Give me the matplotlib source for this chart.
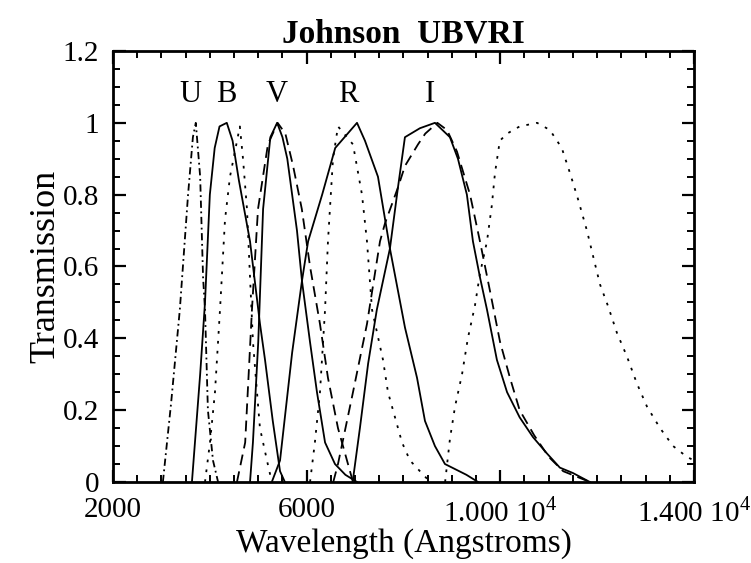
import numpy as np
import matplotlib.pyplot as plt
from matplotlib.ticker import MultipleLocator, FixedLocator

plt.rcParams['font.family'] = ['Liberation Serif', 'DejaVu Serif']
plt.rcParams['mathtext.fontset'] = 'custom'
plt.rcParams['mathtext.rm'] = 'Liberation Serif'

# filter curves (wavelength in Angstroms, transmission)
u_dashdot_wl = [3030, 3200, 3380, 3550, 3650, 3710, 3800, 3860, 3900, 3960, 4065, 4170]
u_dashdot_tr = [0.0, 0.22, 0.48, 0.8, 0.96, 1.0, 0.85, 0.57, 0.48, 0.2, 0.06, 0.0]

b_solid_wl = [3630, 3800, 3900, 4000, 4100, 4200, 4350, 4470, 4600, 4830, 5036, 5140, 5300, 5450, 5550]
b_solid_tr = [0.0, 0.3, 0.5, 0.8, 0.93, 0.99, 1.0, 0.95, 0.84, 0.67, 0.44, 0.34, 0.17, 0.03, 0.0]

b_dotted_wl = [3900, 4003, 4106, 4210, 4313, 4416, 4620, 4685, 4767, 4830, 4891, 4974, 5035, 5180, 5280]
b_dotted_tr = [0.0, 0.11, 0.25, 0.48, 0.73, 0.85, 0.99, 0.9, 0.76, 0.57, 0.39, 0.25, 0.15, 0.06, 0.0]

v_dashed_wl = [4560, 4730, 4870, 4995, 5200, 5400, 5560, 5720, 5900, 6070, 6275, 6440, 6647, 6833, 6957]
v_dashed_tr = [0.0, 0.11, 0.48, 0.76, 0.94, 1.0, 0.97, 0.88, 0.76, 0.6, 0.44, 0.29, 0.15, 0.06, 0.0]

v_solid_wl = [4830, 4890, 5000, 5100, 5250, 5390, 5500, 5600, 5700, 5800, 5903, 6069, 6213, 6380, 6585, 6800, 7040]
v_solid_tr = [0.0, 0.11, 0.39, 0.76, 0.96, 1.0, 0.96, 0.9, 0.8, 0.7, 0.56, 0.39, 0.25, 0.11, 0.05, 0.02, 0.0]

r_solid_wl = [5280, 5450, 5700, 5903, 6030, 6320, 6590, 7040, 7205, 7473, 7720, 8031, 8280, 8444, 8650, 8857, 9300, 9540]
r_solid_tr = [0.0, 0.06, 0.36, 0.56, 0.67, 0.8, 0.93, 1.0, 0.95, 0.85, 0.65, 0.43, 0.29, 0.17, 0.1, 0.05, 0.02, 0.0]

r_dotted_wl = [6070, 6170, 6275, 6380, 6440, 6544, 6647, 6957, 7143, 7246, 7350, 7577, 7680, 7825, 7970, 8134, 8340, 8550]
r_dotted_tr = [0.0, 0.11, 0.25, 0.48, 0.67, 0.9, 0.99, 0.94, 0.8, 0.67, 0.48, 0.34, 0.25, 0.18, 0.11, 0.06, 0.03, 0.0]

i_solid_wl = [6950, 7100, 7270, 7450, 7720, 7886, 8030, 8340, 8650, 8960, 9125, 9310, 9435, 9580, 9725, 9930,
              10140, 10400, 10675, 10960, 11230, 11500, 11850]
i_solid_tr = [0.0, 0.15, 0.33, 0.48, 0.65, 0.82, 0.96, 0.985, 1.0, 0.96, 0.9, 0.8, 0.67, 0.57, 0.48, 0.34,
              0.25, 0.18, 0.125, 0.08, 0.04, 0.025, 0.0]

i_dashed_wl = [6550, 6647, 6957, 7246, 7515, 7618, 7886, 8031, 8300, 8450, 8700, 8900, 9105, 9375, 9580, 9790,
               9995, 10200, 10400, 10700, 11000, 11300, 11850]
i_dashed_tr = [0.0, 0.05, 0.25, 0.44, 0.67, 0.72, 0.82, 0.88, 0.94, 0.97, 1.0, 0.98, 0.92, 0.8, 0.67, 0.53,
               0.39, 0.29, 0.2, 0.13, 0.07, 0.03, 0.0]

i_dotted_wl = [8860, 8960, 9065, 9210, 9330, 9475, 9580, 9725, 9825, 9890, 9990, 10140, 10400, 10760, 11025,
               11270, 11440, 11600, 11790, 11915, 12060, 12225, 12410, 12615, 12820, 13030, 13300, 13570, 13855, 14000]
i_dotted_tr = [0.0, 0.12, 0.21, 0.3, 0.4, 0.49, 0.58, 0.67, 0.77, 0.86, 0.95, 0.97, 0.99, 1.0, 0.98,
               0.93, 0.86, 0.79, 0.7, 0.63, 0.55, 0.49, 0.415, 0.35, 0.275, 0.21, 0.15, 0.1, 0.07, 0.06]

band_names = ['U', 'B', 'V', 'R', 'I']
band_centres = [3590, 4334, 5387, 6853, 8547]

x_ticks = [2000, 6000, 10000, 14000]
x_ticklabels = ['2000', '6000', r'1.000 10$^4$', r'1.400 10$^4$']
y_ticks = [0, 0.2, 0.4, 0.6, 0.8, 1.0, 1.2]
y_ticklabels = ['0', '0.2', '0.4', '0.6', '0.8', '1', '1.2']

dotted = (0, (1.5, 4))
dashed = (0, (6, 3.5))
dashdot = (0, (4, 2, 1, 2))

fig = plt.figure(figsize=(7.51, 5.63), dpi=100)
ax = fig.add_axes([0.1505, 0.1439, 0.7735, 0.7655])

lw = 1.3
ax.plot(u_dashdot_wl, u_dashdot_tr, color='black', lw=lw, ls=dashdot)
ax.plot(b_solid_wl, b_solid_tr, color='black', lw=lw, ls='-')
ax.plot(b_dotted_wl, b_dotted_tr, color='black', lw=lw, ls=dotted)
ax.plot(v_dashed_wl, v_dashed_tr, color='black', lw=lw, ls=dashed)
ax.plot(v_solid_wl, v_solid_tr, color='black', lw=lw, ls='-')
ax.plot(r_solid_wl, r_solid_tr, color='black', lw=lw, ls='-')
ax.plot(r_dotted_wl, r_dotted_tr, color='black', lw=lw, ls=dotted)
ax.plot(i_solid_wl, i_solid_tr, color='black', lw=lw, ls='-')
ax.plot(i_dashed_wl, i_dashed_tr, color='black', lw=lw, ls=dashed)
ax.plot(i_dotted_wl, i_dotted_tr, color='black', lw=lw, ls=dotted)

for name, wl in zip(band_names, band_centres):
    ax.text(wl, 1.078, name, ha='center', va='center', fontsize=22)

ax.set_xlim(2000, 14000)
ax.set_ylim(0, 1.2)
ax.xaxis.set_major_locator(FixedLocator(x_ticks))
ax.xaxis.set_minor_locator(MultipleLocator(500))
ax.yaxis.set_major_locator(FixedLocator(y_ticks))
ax.yaxis.set_minor_locator(MultipleLocator(0.05))
ax.set_xticklabels(x_ticklabels)
ax.set_yticklabels(y_ticklabels)

ax.tick_params(which='both', direction='in', top=True, right=True, labelsize=21, color='black')
ax.tick_params(axis='x', which='major', pad=11)
ax.tick_params(axis='y', which='major', pad=10)
ax.tick_params(which='major', length=9, width=1.6)
ax.tick_params(which='minor', length=5, width=1.4)
for s in ax.spines.values():
    s.set_linewidth(2)

ax.set_xlabel('Wavelength (Angstroms)', fontsize=24, labelpad=1)
ax.set_ylabel('Transmission', fontsize=26, labelpad=0)
ax.set_title('Johnson  UBVRI', fontsize=24, fontweight='bold', pad=6)

fig.savefig('out.png', dpi=100)
